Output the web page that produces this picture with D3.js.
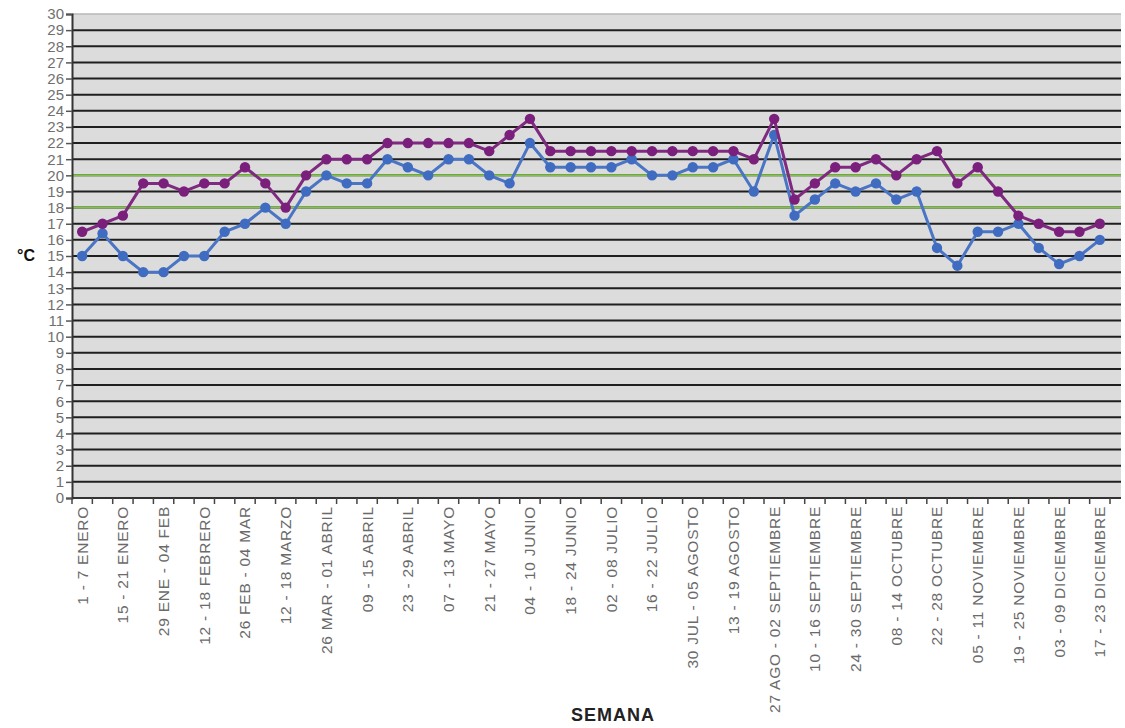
<!DOCTYPE html>
<html>
<head>
<meta charset="utf-8">
<script src="https://cdn.jsdelivr.net/npm/d3@7"></script>
<style>
  html, body { margin: 0; padding: 0; background: #ffffff; }
  svg { display: block; font-family: "Liberation Sans", Arial, sans-serif; }
</style>
</head>
<body>
<svg id="chart" width="1125" height="728"></svg>
<script>
// ---- data ----
const weeks = [1,2,3,4,5,6,7,8,9,10,11,12,13,14,15,16,17,18,19,20,21,22,23,24,25,26,
  27,28,29,30,31,32,33,34,35,36,37,38,39,40,41,42,43,44,45,46,47,48,49,50,51];

const weekLabels = [
  "1 - 7 ENERO", "15 - 21 ENERO", "29 ENE - 04 FEB", "12 - 18 FEBRERO",
  "26 FEB - 04 MAR", "12 - 18 MARZO", "26 MAR - 01 ABRIL", "09 - 15 ABRIL",
  "23 - 29 ABRIL", "07 - 13 MAYO", "21 - 27 MAYO", "04 - 10 JUNIO",
  "18 - 24 JUNIO", "02 - 08 JULIO", "16 - 22 JULIO", "30 JUL - 05 AGOSTO",
  "13 - 19 AGOSTO", "27 AGO - 02 SEPTIEMBRE", "10 - 16 SEPTIEMBRE",
  "24 - 30 SEPTIEMBRE", "08 - 14 OCTUBRE", "22 - 28 OCTUBRE",
  "05 - 11 NOVIEMBRE", "19 - 25 NOVIEMBRE", "03 - 09 DICIEMBRE", "17 - 23 DICIEMBRE"
];
// labelled weeks (every other week)
const labelWeeks = [1,3,5,7,9,11,13,15,17,19,21,23,25,27,29,31,33,35,37,39,41,43,45,47,49,51];

const seriesMax = [16.5,17,17.5,19.5,19.5,19,19.5,19.5,20.5,19.5,18,20,21,21,21,22,22,22,22,22,
  21.5,22.5,23.5,21.5,21.5,21.5,21.5,21.5,21.5,21.5,21.5,21.5,21.5,21,23.5,18.5,19.5,20.5,20.5,21,
  20,21,21.5,19.5,20.5,19,17.5,17,16.5,16.5,17];

const seriesMin = [15,16.4,15,14,14,15,15,16.5,17,18,17,19,20,19.5,19.5,21,20.5,20,21,21,
  20,19.5,22,20.5,20.5,20.5,20.5,21,20,20,20.5,20.5,21,19,22.5,17.5,18.5,19.5,19,19.5,
  18.5,19,15.5,14.4,16.5,16.5,17,15.5,14.5,15,16];

const yTicks = [0,1,2,3,4,5,6,7,8,9,10,11,12,13,14,15,16,17,18,19,20,21,22,23,24,25,26,27,28,29,30];
const greenLines = [18, 20];
const yTitle = "°C";
const xTitle = "SEMANA";

// ---- layout ----
const svg = d3.select("#chart");
const mLeft = 72, mRight = 1110, plotRight = 1121, mTop = 14, mBottom = 498;

const x = d3.scaleBand().domain(weeks).range([mLeft, mRight]).padding(0);
const y = d3.scaleLinear().domain([0, 30]).range([mBottom, mTop]);
const cx = w => x(w) + x.bandwidth() / 2;

// plot background
svg.append("rect")
  .attr("x", mLeft).attr("y", mTop)
  .attr("width", plotRight - mLeft).attr("height", mBottom - mTop)
  .attr("fill", "#dcdcdc");

// gridlines
const grid = svg.append("g");
grid.selectAll("line.g")
  .data(yTicks.filter(v => v > 0 && v < 30))
  .enter().append("line")
  .attr("x1", mLeft).attr("x2", plotRight)
  .attr("y1", d => y(d)).attr("y2", d => y(d))
  .attr("stroke", "#1f1f1f").attr("stroke-width", 2);
grid.append("line")
  .attr("x1", mLeft).attr("x2", plotRight)
  .attr("y1", y(30)).attr("y2", y(30))
  .attr("stroke", "#b8b8b8").attr("stroke-width", 1.5);

// green reference lines
grid.selectAll("line.green")
  .data(greenLines)
  .enter().append("line")
  .attr("x1", mLeft).attr("x2", plotRight)
  .attr("y1", d => y(d)).attr("y2", d => y(d))
  .attr("stroke", "#82c14c").attr("stroke-width", 2);

// y axis
const yAxis = svg.append("g")
  .attr("transform", `translate(${mLeft},0)`)
  .call(d3.axisLeft(y).tickValues(yTicks).tickSize(6).tickPadding(2).tickFormat(d3.format("d")));
yAxis.select(".domain").attr("stroke", "#333").attr("stroke-width", 2);
yAxis.selectAll(".tick line").attr("stroke", "#555").attr("stroke-width", 1.5);
yAxis.selectAll(".tick text")
  .attr("font-size", 15).attr("fill", "#707070")
  .attr("font-family", "Liberation Sans, Arial, sans-serif");

// x axis baseline
svg.append("line")
  .attr("x1", mLeft).attr("x2", plotRight)
  .attr("y1", mBottom).attr("y2", mBottom)
  .attr("stroke", "#333").attr("stroke-width", 2);

// x ticks at category boundaries
const boundaries = weeks.map(w => x(w)).concat([x(weeks[weeks.length - 1]) + x.bandwidth()]);
svg.append("g").selectAll("line")
  .data(boundaries)
  .enter().append("line")
  .attr("x1", d => d).attr("x2", d => d)
  .attr("y1", mBottom).attr("y2", mBottom + 6)
  .attr("stroke", "#444").attr("stroke-width", 1.5);

// x labels (rotated)
svg.append("g").selectAll("text")
  .data(labelWeeks)
  .enter().append("text")
  .attr("transform", d => `translate(${cx(d)},${mBottom + 8}) rotate(-90)`)
  .attr("text-anchor", "end")
  .attr("dy", "0.35em")
  .attr("font-size", 15.5)
  .attr("letter-spacing", 0.75)
  .attr("fill", "#6a6a6a")
  .text((d, i) => weekLabels[i]);

// series
const lineGen = vals => d3.line().x((d, i) => cx(weeks[i])).y(d => y(d))(vals);

function drawSeries(vals, lineColor, dotColor) {
  const g = svg.append("g");
  g.append("path")
    .attr("d", lineGen(vals))
    .attr("fill", "none")
    .attr("stroke", lineColor)
    .attr("stroke-width", 3)
    .attr("stroke-linejoin", "round");
  g.selectAll("circle")
    .data(vals)
    .enter().append("circle")
    .attr("cx", (d, i) => cx(weeks[i]))
    .attr("cy", d => y(d))
    .attr("r", 5.2)
    .attr("fill", dotColor);
}
drawSeries(seriesMin, "#4a74c4", "#3f6cc0");
drawSeries(seriesMax, "#7f2a80", "#7a1f7c");

// titles
svg.append("text")
  .attr("x", 17).attr("y", 261)
  .attr("font-size", 16).attr("font-weight", "bold").attr("fill", "#111")
  .text(yTitle);

svg.append("text")
  .attr("x", 613).attr("y", 721)
  .attr("text-anchor", "middle")
  .attr("font-size", 18).attr("font-weight", "bold").attr("letter-spacing", 1)
  .attr("fill", "#222")
  .text(xTitle);
</script>
</body>
</html>
